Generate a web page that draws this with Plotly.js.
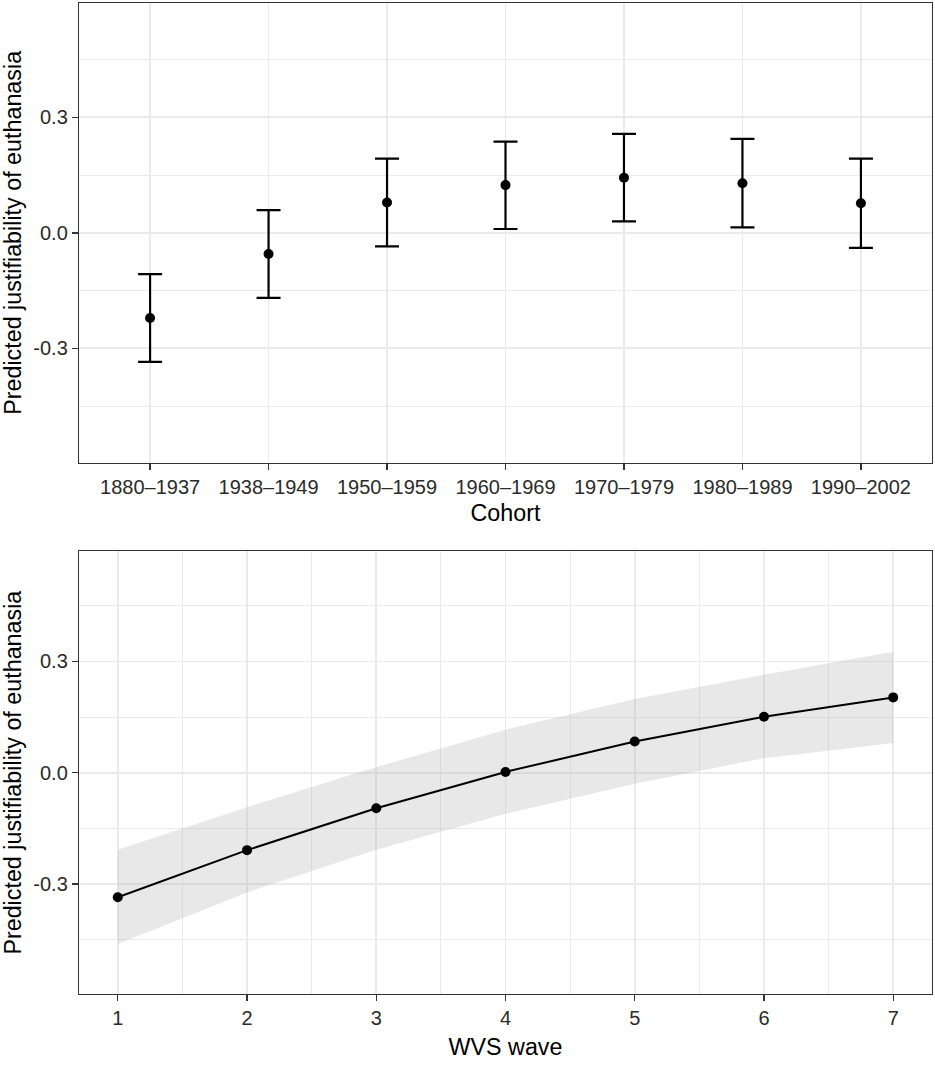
<!DOCTYPE html>
<html>
<head>
<meta charset="utf-8">
<script src="https://cdn.plot.ly/plotly-3.0.1.min.js"></script>
<style>
  html, body { margin: 0; padding: 0; background: #ffffff; }
  #chart { width: 935px; height: 1072px; }
</style>
</head>
<body>
<div id="chart"></div>
<script>
// top panel: predicted value by birth cohort, with 95% interval
const cohorts = ['1880–1937', '1938–1949', '1950–1959', '1960–1969', '1970–1979', '1980–1989', '1990–2002'];
const cohortEst = [-0.221, -0.055, 0.079, 0.124, 0.143, 0.129, 0.077];
const cohortLow = [-0.335, -0.169, -0.035, 0.010, 0.030, 0.014, -0.039];
const cohortHigh = [-0.107, 0.059, 0.193, 0.237, 0.257, 0.244, 0.193];

// bottom panel: predicted value by survey wave, with ribbon
const waves = [1, 2, 3, 4, 5, 6, 7];
const waveEst = [-0.336, -0.209, -0.096, 0.002, 0.084, 0.151, 0.203];
const waveLow = [-0.462, -0.323, -0.208, -0.111, -0.030, 0.039, 0.080];
const waveHigh = [-0.208, -0.093, 0.015, 0.116, 0.199, 0.264, 0.326];

const yTickVals = [-0.3, 0, 0.3];
const yTickText = ['-0.3', '0.0', '0.3'];
const yTitle = 'Predicted justifiability of euthanasia';

const font = 'Liberation Sans, Arial, sans-serif';
const border = '#333333';
const grid = '#ebebeb';
const tickFont = { family: font, size: 20, color: '#2b2b2b' };
const titleFont = { family: font, size: 23.3, color: '#000000' };

const traces = [
    {
        x: cohorts, y: cohortEst,
        type: 'scatter', mode: 'markers',
        xaxis: 'x', yaxis: 'y',
        marker: { color: '#000000', size: 10 },
        error_y: {
            type: 'data', symmetric: false,
            array: cohortHigh.map((v, i) => v - cohortEst[i]),
            arrayminus: cohortEst.map((v, i) => v - cohortLow[i]),
            color: '#000000', thickness: 2.2, width: 12
        },
        hoverinfo: 'x+y'
    },
    {
        x: waves, y: waveLow,
        type: 'scatter', mode: 'lines',
        xaxis: 'x2', yaxis: 'y2',
        line: { width: 0, color: 'rgba(0,0,0,0)' },
        hoverinfo: 'skip'
    },
    {
        x: waves, y: waveHigh,
        type: 'scatter', mode: 'lines',
        xaxis: 'x2', yaxis: 'y2',
        fill: 'tonexty', fillcolor: 'rgba(170,170,170,0.27)',
        line: { width: 0, color: 'rgba(0,0,0,0)' },
        hoverinfo: 'skip'
    },
    {
        x: waves, y: waveEst,
        type: 'scatter', mode: 'lines+markers',
        xaxis: 'x2', yaxis: 'y2',
        line: { color: '#000000', width: 2 },
        marker: { color: '#000000', size: 10 },
        hoverinfo: 'x+y'
    }
];

function yAxis(domain, anchor) {
    return {
        domain: domain, anchor: anchor,
        range: [-0.597, 0.597],
        tickmode: 'array', tickvals: yTickVals, ticktext: yTickText,
        ticks: 'outside', ticklen: 6, tickwidth: 1.3, tickcolor: border,
        tickfont: tickFont,
        showgrid: true, gridcolor: grid, gridwidth: 1.8,
        minor: { tickmode: 'array', tickvals: [-0.45, -0.15, 0.15, 0.45], showgrid: true, gridcolor: grid, gridwidth: 1 },
        zeroline: false,
        showline: true, mirror: true, linecolor: border, linewidth: 1.2,
        title: { text: yTitle, font: titleFont, standoff: 12 }
    };
}

const layout = {
    width: 935, height: 1072,
    paper_bgcolor: '#ffffff', plot_bgcolor: '#ffffff',
    margin: { l: 79, r: 3, t: 3, b: 78 },
    showlegend: false,
    font: { family: font },
    xaxis: {
        type: 'category', anchor: 'y',
        categoryorder: 'array', categoryarray: cohorts,
        range: [-0.6, 6.6],
        ticks: 'outside', ticklen: 6, tickwidth: 1.3, tickcolor: border,
        tickfont: tickFont,
        showgrid: true, gridcolor: grid, gridwidth: 1.8,
        zeroline: false,
        showline: true, mirror: true, linecolor: border, linewidth: 1.2,
        title: { text: 'Cohort', font: titleFont, standoff: 7 }
    },
    yaxis: yAxis([0.5361, 1], 'x'),
    xaxis2: {
        anchor: 'y2',
        range: [0.7, 7.3],
        tickmode: 'linear', tick0: 1, dtick: 1,
        ticks: 'outside', ticklen: 6, tickwidth: 1.3, tickcolor: border,
        tickfont: tickFont,
        showgrid: true, gridcolor: grid, gridwidth: 1.8,
        minor: { tickmode: 'array', tickvals: [1.5, 2.5, 3.5, 4.5, 5.5, 6.5], showgrid: true, gridcolor: grid, gridwidth: 1 },
        zeroline: false,
        showline: true, mirror: true, linecolor: border, linewidth: 1.2,
        title: { text: 'WVS wave', font: titleFont, standoff: 10 }
    },
    yaxis2: yAxis([0, 0.4467], 'x2')
};

Plotly.newPlot('chart', traces, layout, { displayModeBar: false, staticPlot: true });
</script>
</body>
</html>
